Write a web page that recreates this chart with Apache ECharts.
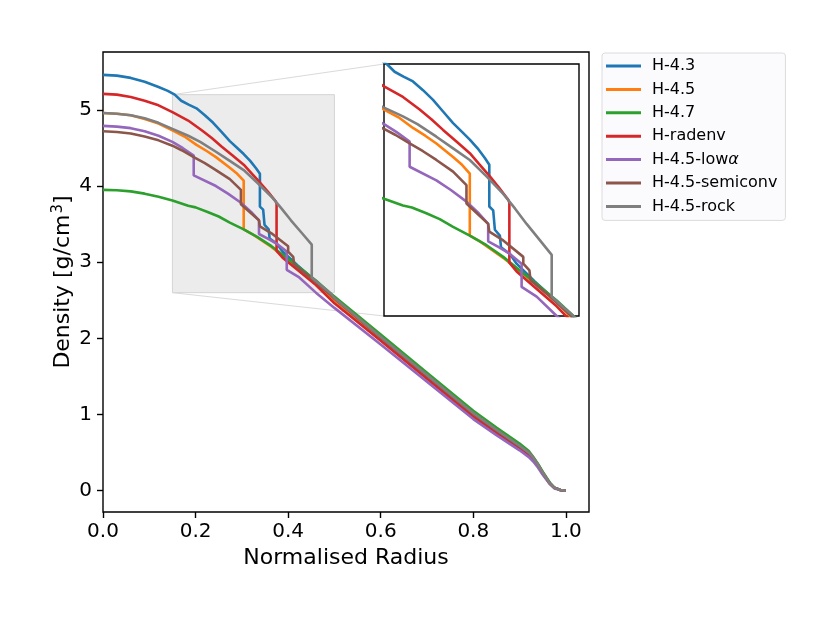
<!DOCTYPE html>
<html lang="en">
<head>
    <meta charset="UTF-8">
    <title>density profiles</title>
    <script src="https://cdn.jsdelivr.net/npm/echarts@6.0.0/dist/echarts.min.js"></script>
    <style>
        html, body { margin: 0; padding: 0; background: #fff; }
        #main { width: 831px; height: 618px; }
    </style>
</head>
<body>
    <div id="main"></div>
    <script type="text/javascript">
        // [normalised radius, density g/cm3]
        var h43 = [[0, 5.46], [0.03, 5.45], [0.06, 5.42], [0.09, 5.37], [0.12, 5.30], [0.14, 5.25], [0.155, 5.20],
            [0.169, 5.12], [0.185, 5.07], [0.202, 5.02], [0.22, 4.93], [0.238, 4.83], [0.256, 4.71], [0.274, 4.59],
            [0.29, 4.50], [0.304, 4.42], [0.318, 4.33], [0.331, 4.23], [0.339, 4.16], [0.339, 3.73], [0.346, 3.69],
            [0.349, 3.49], [0.358, 3.43], [0.360, 3.31], [0.376, 3.24], [0.388, 3.14], [0.42, 2.96], [0.46, 2.75],
            [0.5, 2.51], [0.6, 2.0], [0.7, 1.5], [0.8, 1.0], [0.85, 0.78], [0.9, 0.58], [0.92, 0.49], [0.93, 0.42],
            [0.94, 0.33], [0.95, 0.23], [0.965, 0.1], [0.975, 0.04], [0.988, 0.01], [1.0, 0.0]];
        var h45 = [[0, 4.96], [0.03, 4.95], [0.06, 4.93], [0.09, 4.88], [0.12, 4.82], [0.15, 4.73], [0.176, 4.65],
            [0.202, 4.54], [0.224, 4.46], [0.244, 4.38], [0.274, 4.24], [0.29, 4.16], [0.304, 4.07], [0.304, 3.43],
            [0.322, 3.37], [0.364, 3.20], [0.394, 3.06], [0.424, 2.92], [0.46, 2.74], [0.5, 2.5], [0.6, 2.0],
            [0.7, 1.5], [0.8, 1.0], [0.85, 0.78], [0.9, 0.58], [0.92, 0.49], [0.93, 0.42], [0.94, 0.33], [0.95, 0.23],
            [0.965, 0.1], [0.975, 0.04], [0.988, 0.01], [1.0, 0.0]];
        var h47 = [[0, 3.95], [0.03, 3.945], [0.06, 3.93], [0.09, 3.90], [0.12, 3.86], [0.15, 3.81], [0.184, 3.74],
            [0.2, 3.72], [0.226, 3.66], [0.25, 3.60], [0.274, 3.52], [0.304, 3.43], [0.334, 3.33], [0.364, 3.21],
            [0.394, 3.07], [0.424, 2.93], [0.46, 2.76], [0.49, 2.6], [0.5, 2.55], [0.6, 2.05], [0.7, 1.55],
            [0.8, 1.05], [0.85, 0.83], [0.9, 0.62], [0.92, 0.52], [0.93, 0.44], [0.94, 0.35], [0.95, 0.25],
            [0.965, 0.11], [0.975, 0.04], [0.988, 0.01], [1.0, 0.0]];
        var hRadenv = [[0, 5.21], [0.03, 5.20], [0.06, 5.17], [0.09, 5.12], [0.12, 5.06], [0.15, 4.97], [0.184, 4.86],
            [0.214, 4.73], [0.235, 4.63], [0.256, 4.52], [0.28, 4.40], [0.304, 4.28], [0.322, 4.16], [0.340, 4.04],
            [0.357, 3.92], [0.373, 3.80], [0.375, 3.77], [0.375, 3.15], [0.388, 3.06], [0.42, 2.9], [0.46, 2.7],
            [0.5, 2.46], [0.6, 1.97], [0.7, 1.47], [0.8, 0.97], [0.85, 0.76], [0.9, 0.56], [0.92, 0.47], [0.93, 0.40],
            [0.94, 0.32], [0.95, 0.22], [0.965, 0.09], [0.975, 0.04], [0.988, 0.01], [1.0, 0.0]];
        var h45LowAlpha = [[0, 4.79], [0.03, 4.78], [0.06, 4.76], [0.09, 4.72], [0.12, 4.66], [0.15, 4.58], [0.172, 4.50],
            [0.196, 4.40], [0.196, 4.14], [0.244, 4.0], [0.27, 3.90], [0.298, 3.78], [0.32, 3.66], [0.337, 3.55],
            [0.337, 3.37], [0.356, 3.31], [0.376, 3.24], [0.397, 3.14], [0.397, 2.9], [0.424, 2.8], [0.46, 2.6],
            [0.5, 2.4], [0.6, 1.92], [0.7, 1.43], [0.8, 0.94], [0.85, 0.73], [0.9, 0.53], [0.92, 0.44], [0.93, 0.38],
            [0.94, 0.30], [0.95, 0.21], [0.965, 0.09], [0.975, 0.03], [0.988, 0.01], [1.0, 0.0]];
        var h45Semiconv = [[0, 4.72], [0.03, 4.71], [0.06, 4.69], [0.09, 4.65], [0.12, 4.60], [0.15, 4.53], [0.17, 4.47],
            [0.196, 4.38], [0.22, 4.30], [0.244, 4.21], [0.274, 4.09], [0.298, 3.95], [0.298, 3.76], [0.337, 3.55],
            [0.339, 3.47], [0.364, 3.38], [0.400, 3.21], [0.400, 3.14], [0.411, 3.07], [0.413, 2.97], [0.448, 2.80],
            [0.49, 2.58], [0.5, 2.52], [0.6, 2.01], [0.7, 1.51], [0.8, 1.01], [0.85, 0.79], [0.9, 0.58], [0.92, 0.5],
            [0.93, 0.43], [0.94, 0.34], [0.95, 0.24], [0.965, 0.1], [0.975, 0.04], [0.988, 0.01], [1.0, 0.0]];
        var h45Rock = [[0, 4.96], [0.03, 4.95], [0.06, 4.93], [0.09, 4.89], [0.12, 4.83], [0.15, 4.75], [0.184, 4.66],
            [0.21, 4.58], [0.244, 4.45], [0.274, 4.33], [0.304, 4.21], [0.334, 4.04], [0.364, 3.86], [0.385, 3.71],
            [0.406, 3.55], [0.43, 3.38], [0.451, 3.23], [0.451, 2.80], [0.47, 2.70], [0.49, 2.6], [0.5, 2.53],
            [0.6, 2.02], [0.7, 1.52], [0.8, 1.02], [0.85, 0.8], [0.9, 0.59], [0.92, 0.5], [0.93, 0.43], [0.94, 0.34],
            [0.95, 0.24], [0.965, 0.1], [0.975, 0.04], [0.988, 0.01], [1.0, 0.0]];

        var names = ['H-4.3', 'H-4.5', 'H-4.7', 'H-radenv', 'H-4.5-low\u03b1', 'H-4.5-semiconv', 'H-4.5-rock'];
        var profiles = [h43, h45, h47, hRadenv, h45LowAlpha, h45Semiconv, h45Rock];
        var colors = ['#1f77b4', '#ff7f0e', '#2ca02c', '#d62728', '#9467bd', '#8c564b', '#7f7f7f'];

        var xTicks = [0, 0.2, 0.4, 0.6, 0.8, 1.0];
        var yTicks = [0, 1, 2, 3, 4, 5];
        // zoomed window: x 0.15-0.5, y 2.6-5.2
        var zoomX = [0.15, 0.5];
        var zoomY = [2.6, 5.2];

        var chart = echarts.init(document.getElementById('main'));

        var series = [];
        for (var k = 0; k < profiles.length; k++) {
            series.push({
                name: names[k],
                type: 'line',
                xAxisIndex: 0,
                yAxisIndex: 0,
                data: profiles[k],
                symbol: 'none',
                lineStyle: { width: 2.6, color: colors[k] },
                itemStyle: { color: colors[k] }
            });
        }
        series[0].markArea = {
            silent: true,
            itemStyle: { color: '#ececec', borderColor: '#d4d4d4', borderWidth: 1 },
            data: [[{ coord: [zoomX[0], zoomY[1]] }, { coord: [zoomX[1], zoomY[0]] }]]
        };
        for (var k = 0; k < profiles.length; k++) {
            series.push({
                name: names[k],
                type: 'line',
                xAxisIndex: 1,
                yAxisIndex: 1,
                data: profiles[k],
                symbol: 'none',
                clip: true,
                lineStyle: { width: 2.6, color: colors[k] },
                itemStyle: { color: colors[k] }
            });
        }

        var font = 'DejaVu Sans';
        var option = {
            animation: false,
            backgroundColor: '#fff',
            textStyle: { fontFamily: font },
            legend: {
                orient: 'vertical',
                left: 602,
                top: 53,
                data: names,
                icon: 'rect',
                itemWidth: 35,
                itemHeight: 3,
                itemGap: 7.4,
                padding: [5, 8, 6, 4],
                backgroundColor: '#fbfbfe',
                borderColor: '#dcdcdc',
                borderWidth: 1,
                borderRadius: 3,
                formatter: function (name) {
                    return name.replace('\u03b1', '{i|\u03b1}');
                },
                textStyle: {
                    fontFamily: font, fontSize: 16, color: '#000', lineHeight: 16, padding: [0, 0, 0, 6],
                    rich: { i: { fontFamily: font, fontSize: 16, fontStyle: 'italic', color: '#000', lineHeight: 16 } }
                }
            },
            grid: [
                { left: 103, top: 52, width: 486, height: 460, show: true, borderColor: '#000', borderWidth: 1.4, backgroundColor: 'transparent' },
                { left: 384, top: 64, width: 195, height: 252, show: true, borderColor: '#000', borderWidth: 1.4, backgroundColor: '#fff', z: 3 }
            ],
            xAxis: [
                {
                    type: 'value', gridIndex: 0, min: 0, max: 1.05,
                    name: 'Normalised Radius', nameLocation: 'middle', nameGap: 34,
                    nameTextStyle: { fontFamily: font, fontSize: 22, color: '#000' },
                    splitLine: { show: false },
                    axisLine: { show: false, onZero: false },
                    axisTick: { show: true, length: 6, lineStyle: { color: '#000', width: 1.4 }, customValues: xTicks },
                    axisLabel: {
                        fontFamily: font, fontSize: 20, color: '#000', margin: 10, customValues: xTicks,
                        formatter: function (v) { return v.toFixed(1); }
                    }
                },
                {
                    type: 'value', gridIndex: 1, min: zoomX[0], max: zoomX[1],
                    axisLine: { show: false }, axisTick: { show: false }, axisLabel: { show: false }, splitLine: { show: false }
                }
            ],
            yAxis: [
                {
                    type: 'value', gridIndex: 0, min: -0.28, max: 5.76,
                    name: 'Density [g/cm{sup|3}]', nameLocation: 'middle', nameGap: 27, nameRotate: 90,
                    nameMoveOverlap: false,
                    nameTextStyle: {
                        fontFamily: font, fontSize: 22, color: '#000',
                        rich: { sup: { fontFamily: font, fontSize: 15, color: '#000', verticalAlign: 'bottom', padding: [0, 0, 10, 1] } }
                    },
                    splitLine: { show: false },
                    axisLine: { show: false, onZero: false },
                    axisTick: { show: true, length: 6, lineStyle: { color: '#000', width: 1.4 }, customValues: yTicks },
                    axisLabel: { fontFamily: font, fontSize: 20, color: '#000', margin: 11, customValues: yTicks }
                },
                {
                    type: 'value', gridIndex: 1, min: zoomY[0], max: zoomY[1],
                    axisLine: { show: false }, axisTick: { show: false }, axisLabel: { show: false }, splitLine: { show: false }
                }
            ],
            series: series
        };
        chart.setOption(option);

        // connector lines from the shaded window to the zoomed box (upper-left and lower-left corners)
        var a1 = chart.convertToPixel({ gridIndex: 0 }, [zoomX[0], zoomY[1]]);
        var b1 = chart.convertToPixel({ gridIndex: 1 }, [zoomX[0], zoomY[1]]);
        var a2 = chart.convertToPixel({ gridIndex: 0 }, [zoomX[0], zoomY[0]]);
        var b2 = chart.convertToPixel({ gridIndex: 1 }, [zoomX[0], zoomY[0]]);
        chart.setOption({
            graphic: [
                { type: 'line', z: 1, silent: true, shape: { x1: a1[0], y1: a1[1], x2: b1[0], y2: b1[1] }, style: { stroke: '#dadada', lineWidth: 1 } },
                { type: 'line', z: 1, silent: true, shape: { x1: a2[0], y1: a2[1], x2: b2[0], y2: b2[1] }, style: { stroke: '#dadada', lineWidth: 1 } }
            ]
        });
    </script>
</body>
</html>
